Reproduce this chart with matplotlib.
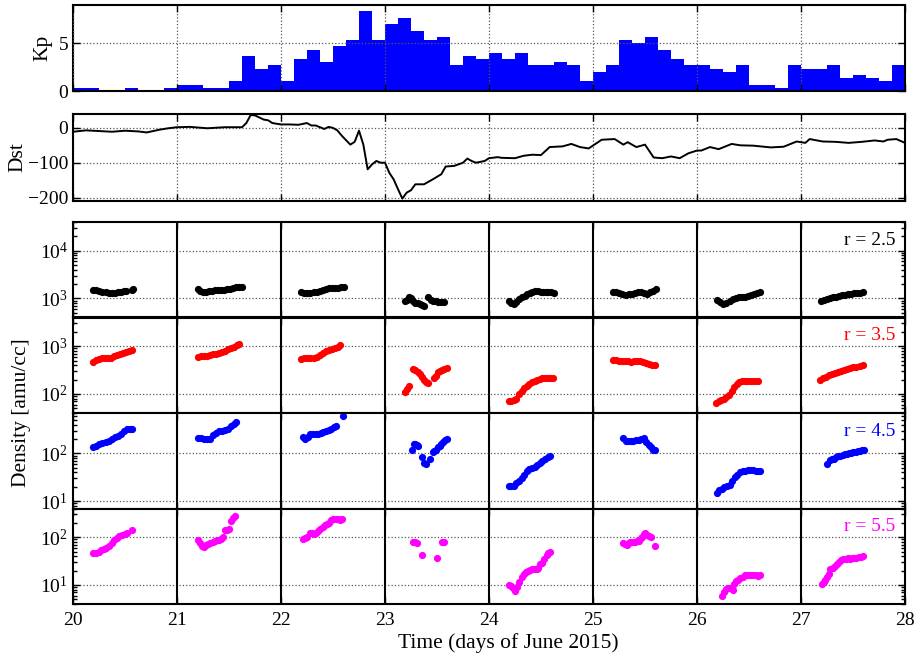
import numpy as np
import matplotlib
matplotlib.use("Agg")
import matplotlib.pyplot as plt
from matplotlib.ticker import FixedLocator, FuncFormatter, LogLocator, NullFormatter

plt.rcParams["font.family"] = ["Liberation Serif", "DejaVu Serif"]
plt.rcParams["font.size"] = 14
plt.rcParams["mathtext.fontset"] = "custom"
plt.rcParams["mathtext.rm"] = "Liberation Serif"
plt.rcParams["mathtext.it"] = "Liberation Serif:italic"

DAYS = np.arange(20, 29)

# 3-hourly Kp, June 20-27 2015
kp = [
    0.33, 0.33, 0, 0, 0.33, 0, 0, 0.33,
    0.67, 0.67, 0.33, 0.33, 1, 3.67, 2.33, 2.67,
    1, 3.33, 4.33, 3, 4.67, 5.33, 8.33, 5.33,
    7, 7.67, 6.33, 5.33, 5.67, 2.67, 3.67, 3.33,
    4, 3.33, 4, 2.67, 2.67, 3, 2.67, 1,
    2, 2.67, 5.33, 5, 5.67, 4.33, 3.33, 2.67,
    2.67, 2.33, 2, 2.67, 0.67, 0.67, 0.33, 2.67,
    2.33, 2.33, 2.67, 1.33, 1.67, 1.33, 1, 2.67,
]

# Dst index, hours after June 20 00 UT
dst_hours = [
    0, 3, 6, 9, 12, 15, 17, 20, 22, 24, 27, 31, 35, 39, 40, 41, 42, 44, 45, 46,
    48, 50, 52, 54, 55, 56, 58, 59, 60, 61, 62, 64, 65, 66, 67, 68, 69, 70, 71, 72,
    73, 74, 75, 76, 77, 78, 79, 81, 83, 85, 86, 88, 90, 91, 92, 93, 95, 96, 98, 99,
    102, 104, 106, 108, 110, 113, 115, 117, 119, 122, 125, 127, 128, 130, 132, 134,
    136, 138, 140, 142, 144, 145, 147, 149, 152, 154, 157, 161, 164, 167, 169, 170,
    173, 176, 179, 182, 185, 187, 188, 190, 192,
]
dst = [
    -11, -7, -9, -11, -8, -10, -13, -5, -1, 2, 3, -1, 2, 2, 14, 37, 36, 24, 22, 14,
    10, 10, 9, 14, 7, 7, -3, 3, 0, -7, -22, -48, -40, -8, -48, -119, -105, -95, -100, -100,
    -129, -148, -176, -203, -186, -179, -162, -162, -148, -133, -111, -109, -100, -88, -95, -100, -95, -87, -84, -86,
    -87, -80, -77, -78, -55, -53, -46, -55, -59, -34, -32, -48, -41, -55, -48, -85,
    -87, -82, -87, -73, -65, -65, -55, -61, -46, -50, -51, -56, -54, -39, -43, -32,
    -39, -40, -43, -40, -36, -39, -34, -32, -43,
]

# Plasma density along each pass: hours after 00 UT of the day, amu/cc
hours_r25 = [
    [4.7, 5.4, 6.1, 6.8, 7.5, 8.2, 8.9, 9.6, 10.3, 11.0, 11.7, 12.3, 13.5, 13.9],
    [4.8, 5.3, 5.9, 6.6, 7.3, 8.0, 8.7, 9.4, 10.1, 10.8, 11.5, 12.2, 12.9, 13.6, 14.3, 14.9],
    [4.7, 5.4, 6.1, 6.8, 7.5, 8.2, 8.9, 9.6, 10.3, 11.0, 11.7, 12.4, 13.1, 13.8, 14.5],
    [4.5, 5.0, 5.5, 6.0, 6.5, 7.0, 7.5, 8.0, 8.5, 9.0, 9.9, 10.5, 11.1, 11.7, 12.3, 12.9, 13.5],
    [4.6, 5.1, 5.7, 6.3, 7.0, 7.6, 8.2, 8.8, 9.4, 10.0, 10.6, 11.2, 11.9, 12.5, 13.1, 13.7, 14.3, 14.9],
    [4.7, 5.4, 6.1, 6.8, 7.5, 8.2, 8.9, 9.6, 10.3, 11.0, 11.7, 12.4, 13.1, 13.8, 14.5],
    [4.7, 5.4, 6.1, 6.8, 7.5, 8.2, 8.9, 9.6, 10.3, 11.0, 11.7, 12.4, 13.1, 13.8, 14.5],
    [4.5, 5.2, 5.9, 6.6, 7.3, 8.0, 8.7, 9.4, 10.1, 10.8, 11.5, 12.2, 12.9, 13.6, 14.3],
]
dens_r25 = [
    [1500, 1480, 1450, 1400, 1350, 1330, 1320, 1330, 1360, 1400, 1430, 1450, 1520, 1560],
    [1550, 1420, 1350, 1380, 1430, 1470, 1490, 1500, 1510, 1530, 1560, 1600, 1650, 1700, 1750, 1780],
    [1380, 1330, 1300, 1320, 1350, 1400, 1450, 1500, 1560, 1620, 1650, 1660, 1680, 1700, 1750],
    [880, 950, 1080, 1000, 900, 820, 800, 780, 740, 700, 1050, 950, 900, 880, 860, 840, 830],
    [880, 800, 760, 850, 980, 1080, 1150, 1220, 1290, 1380, 1470, 1430, 1360, 1350, 1380, 1400, 1350, 1290],
    [1350, 1400, 1300, 1220, 1200, 1220, 1250, 1280, 1350, 1400, 1300, 1250, 1350, 1450, 1600],
    [920, 850, 780, 820, 900, 960, 1020, 1060, 1080, 1100, 1150, 1200, 1250, 1330, 1400],
    [880, 930, 990, 1030, 1060, 1100, 1130, 1160, 1200, 1220, 1250, 1280, 1300, 1330, 1360],
]

hours_r35 = [
    [4.6, 5.3, 6.0, 6.7, 7.4, 8.1, 8.8, 9.5, 10.2, 10.9, 11.6, 12.3, 13.0, 13.7],
    [4.8, 5.5, 6.2, 6.9, 7.6, 8.3, 9.0, 9.7, 10.4, 11.1, 11.8, 12.5, 13.2, 13.9, 14.4],
    [4.7, 5.4, 6.1, 6.8, 7.5, 8.2, 8.9, 9.6, 10.3, 11.0, 11.7, 12.4, 13.1, 13.6],
    [4.6, 5.0, 5.5, 6.5, 7.0, 7.5, 8.0, 8.5, 9.0, 9.5, 10.0, 11.2, 11.7, 12.2, 12.7, 13.2, 13.7, 14.2],
    [4.5, 5.1, 5.7, 6.3, 6.9, 7.5, 8.1, 8.7, 9.3, 9.9, 10.5, 11.1, 11.7, 12.3, 12.9, 13.5, 14.1, 14.7],
    [4.5, 5.2, 5.9, 6.6, 7.3, 8.0, 8.7, 9.4, 10.1, 10.8, 11.5, 12.2, 12.9, 13.6, 14.3],
    [4.4, 5.0, 5.6, 6.2, 6.8, 7.4, 8.0, 8.6, 9.2, 9.8, 10.4, 11.0, 11.6, 12.2, 12.8, 13.4, 14.0],
    [4.4, 5.1, 5.8, 6.5, 7.2, 7.9, 8.6, 9.3, 10.0, 10.7, 11.4, 12.1, 12.8, 13.5, 14.2],
]
dens_r35 = [
    [470, 510, 550, 580, 570, 560, 580, 620, 650, 700, 720, 760, 800, 840],
    [600, 610, 620, 640, 660, 680, 700, 720, 750, 800, 860, 920, 980, 1050, 1100],
    [540, 560, 560, 560, 570, 600, 650, 720, 790, 850, 880, 900, 980, 1050],
    [112, 125, 145, 330, 320, 290, 260, 230, 195, 175, 170, 215, 240, 290, 310, 320, 340, 350],
    [72, 72, 74, 80, 100, 118, 135, 150, 165, 178, 190, 200, 205, 212, 218, 215, 220, 218],
    [520, 510, 500, 490, 500, 480, 470, 490, 500, 480, 470, 450, 430, 400, 410],
    [66, 70, 74, 80, 86, 95, 115, 140, 160, 175, 185, 188, 190, 190, 188, 186, 185],
    [200, 215, 230, 245, 260, 275, 290, 305, 320, 335, 350, 362, 375, 390, 400],
]

hours_r45 = [
    [4.7, 5.4, 6.1, 6.8, 7.5, 8.2, 8.9, 9.6, 10.3, 11.0, 11.7, 12.4, 13.1, 13.6],
    [4.8, 5.5, 6.2, 6.9, 7.6, 8.3, 9.0, 9.7, 10.4, 11.1, 11.8, 12.5, 13.2, 13.6],
    [5.0, 5.6, 6.2, 6.8, 7.4, 8.0, 8.6, 9.2, 9.8, 10.4, 11.0, 11.6, 12.2, 12.8, 14.3],
    [6.3, 6.7, 7.0, 7.4, 7.7, 8.5, 9.0, 9.4, 10.4, 11.0, 11.4, 11.8, 12.2, 12.6, 13.0, 13.4, 13.8, 14.2],
    [4.5, 5.1, 5.7, 6.3, 6.9, 7.5, 8.1, 8.7, 9.3, 9.9, 10.5, 11.1, 11.7, 12.3, 12.9, 13.5, 14.1],
    [6.9, 7.5, 8.1, 8.7, 9.3, 9.9, 10.5, 11.1, 11.7, 12.3, 12.9, 13.4, 13.9, 14.2],
    [4.5, 5.1, 5.7, 6.3, 6.9, 7.5, 8.1, 8.7, 9.3, 9.9, 10.5, 11.1, 11.7, 12.3, 12.9, 13.5, 14.1, 14.5],
    [6.1, 6.6, 7.1, 7.6, 8.1, 8.6, 9.1, 9.6, 10.1, 10.6, 11.1, 11.6, 12.1, 12.6, 13.1, 13.6, 14.1, 14.6],
]
dens_r45 = [
    [133, 145, 155, 165, 175, 185, 200, 215, 235, 260, 290, 320, 325, 320],
    [205, 205, 200, 198, 200, 240, 265, 290, 300, 310, 330, 370, 420, 450],
    [215, 200, 225, 255, 260, 250, 260, 270, 275, 290, 310, 330, 350, 380, 600],
    [117, 155, 160, 150, 140, 82, 64, 59, 78, 108, 112, 120, 135, 145, 160, 175, 188, 196],
    [21, 21, 21, 24, 27, 30, 36, 42, 46, 50, 52, 56, 63, 70, 76, 82, 87],
    [208, 185, 180, 182, 185, 188, 195, 200, 210, 175, 150, 135, 120, 115],
    [15, 17, 18, 20, 21, 22, 27, 32, 36, 40, 42, 43, 44, 44, 44, 43, 43, 43],
    [60, 72, 75, 78, 82, 87, 90, 92, 95, 98, 100, 102, 105, 108, 110, 112, 115, 118],
]

hours_r55 = [
    [4.7, 5.3, 5.9, 6.5, 7.1, 7.7, 8.3, 8.9, 9.5, 10.1, 10.7, 11.3, 11.9, 12.5, 13.5],
    [4.9, 5.3, 5.7, 6.2, 6.7, 7.2, 7.7, 8.2, 8.7, 9.2, 9.7, 10.2, 10.7, 11.1, 11.6, 12.0, 12.4, 12.9, 13.4],
    [5.1, 5.6, 6.1, 6.6, 7.1, 7.6, 8.1, 8.6, 9.1, 9.6, 10.1, 10.6, 11.1, 11.6, 12.1, 12.6, 13.1, 13.6, 14.0],
    [6.4, 6.9, 7.4, 8.5, 12.0, 13.2, 13.7],
    [4.5, 5.0, 5.5, 6.0, 6.4, 7.0, 7.5, 8.0, 8.5, 9.0, 9.5, 10.0, 10.6, 11.1, 11.4, 11.8, 12.3, 12.8, 13.3, 13.7, 14.1],
    [7.0, 7.4, 7.8, 8.2, 8.6, 9.0, 9.4, 9.8, 10.2, 10.6, 11.0, 11.4, 11.8, 12.1, 12.5, 12.9, 13.3, 14.3],
    [5.7, 6.2, 6.7, 7.2, 7.7, 8.2, 8.6, 9.0, 9.5, 10.0, 10.5, 11.0, 11.5, 12.0, 12.5, 13.0, 13.5, 14.0, 14.5],
    [4.8, 5.2, 5.6, 6.0, 6.5, 6.8, 7.3, 7.8, 8.3, 8.8, 9.3, 9.8, 10.3, 10.8, 11.3, 11.8, 12.3, 12.8, 13.3, 13.8, 14.4],
]
dens_r55 = [
    [46, 47, 50, 53, 56, 60, 65, 75, 88, 98, 105, 110, 115, 125, 145],
    [88, 75, 65, 63, 68, 72, 76, 80, 85, 88, 88, 92, 100, 140, 140, 150, 220, 250, 275],
    [92, 95, 100, 120, 120, 118, 125, 135, 150, 165, 180, 190, 200, 235, 240, 240, 240, 235, 240],
    [78, 78, 77, 42, 37, 78, 78],
    [10, 9.5, 8.5, 7.6, 9, 11.5, 15, 17, 19, 20, 21, 22, 22, 22, 23, 28, 29, 35, 42, 47, 50],
    [76, 72, 70, 75, 78, 80, 80, 80, 82, 85, 95, 100, 115, 122, 110, 105, 100, 66],
    [6.0, 7.0, 8.2, 8.8, 8.5, 8.0, 10.5, 12, 13, 14, 15, 16, 16.5, 16, 16, 16, 16, 15.5, 16],
    [10.5, 11.5, 13, 15, 17, 22, 23, 25, 28, 30, 33, 35, 35, 36, 35, 37, 36, 37, 38, 39, 40],
]

rows = [
    ("r = 2.5", "k", hours_r25, dens_r25, (400, 40000), [1e3, 1e4]),
    ("r = 3.5", (1, 0, 0), hours_r35, dens_r35, (40, 4000), [1e2, 1e3]),
    ("r = 4.5", (0, 0, 1), hours_r45, dens_r45, (7, 700), [1e1, 1e2]),
    ("r = 5.5", (1, 0, 1), hours_r55, dens_r55, (4, 400), [1e1, 1e2]),
]

fig = plt.figure(figsize=(9.23, 6.56), dpi=100)
left, width = 73 / 923, 832 / 923
label_size = 15.5


def frame(ax):
    for s in ax.spines.values():
        s.set_linewidth(1.5)
    ax.tick_params(which="both", direction="in", top=True, right=True, width=1)
    ax.tick_params(which="major", length=5)
    ax.tick_params(which="minor", length=3)
    ax.set_xlim(20, 28)
    ax.set_xticks(DAYS)


# Kp
ax_kp = fig.add_axes([left, 1 - 91 / 656, width, 86 / 656])
kp_t = 20 + np.arange(len(kp)) / 8
ax_kp.bar(kp_t, kp, width=1 / 8, align="edge", color=(0, 0, 1), edgecolor="none")
frame(ax_kp)
ax_kp.set_ylim(0, 9)
ax_kp.set_yticks([0, 5])
ax_kp.set_xticklabels([])
ax_kp.grid(True, linestyle=":", color="0.35", linewidth=0.9)
ax_kp.set_axisbelow(False)
ax_kp.set_ylabel("Kp", fontsize=label_size, labelpad=4)

# Dst
ax_dst = fig.add_axes([left, 1 - 201 / 656, width, 87 / 656])
ax_dst.plot(20 + np.array(dst_hours) / 24, dst, color="k", linewidth=1.4)
frame(ax_dst)
ax_dst.set_ylim(-210, 40)
ax_dst.set_yticks([-200, -100, 0])
ax_dst.set_xticklabels([])
ax_dst.grid(True, linestyle=":", color="0.35", linewidth=0.9)
ax_dst.set_ylabel("Dst", fontsize=label_size, labelpad=0)

# Density rows
row_h = 95.5 / 656
top = 1 - 222 / 656
dec_fmt = FuncFormatter(lambda v, _: r"$10^{%d}$" % round(np.log10(v)))
for i, (label, color, hrs, dens, ylim, yt) in enumerate(rows):
    ax = fig.add_axes([left, top - (i + 1) * row_h, width, row_h])
    for day, h, d in zip(DAYS[:-1], hrs, dens):
        ax.plot(day + np.array(h) / 24, d, "o", color=color, markersize=5.2, markeredgewidth=0)
    ax.set_yscale("log")
    ax.set_ylim(*ylim)
    frame(ax)
    ax.yaxis.set_major_locator(FixedLocator(yt))
    ax.yaxis.set_major_formatter(dec_fmt)
    ax.yaxis.set_minor_locator(LogLocator(base=10, subs=np.arange(2, 10)))
    ax.yaxis.set_minor_formatter(NullFormatter())
    ax.grid(True, axis="y", which="major", linestyle=":", color="0.35", linewidth=0.9)
    for day in DAYS[1:-1]:
        ax.axvline(day, color="k", linewidth=1.5)
    ax.text(0.958, 0.81, label, transform=ax.transAxes, ha="center", va="center",
            color=color, fontsize=14)
    if i < len(rows) - 1:
        ax.set_xticklabels([])
    else:
        ax.set_xticklabels([str(d) for d in DAYS])
        ax.tick_params(axis="x", pad=6)
        ax.set_xlabel("Time (days of June 2015)", fontsize=label_size)
        ax.xaxis.set_label_coords(0.523, -0.3)

fig.text(22 / 923, 1 - 413 / 656, "Density [amu/cc]", rotation=90, ha="center", va="center",
         fontsize=label_size)

fig.savefig("out.png", dpi=100)
